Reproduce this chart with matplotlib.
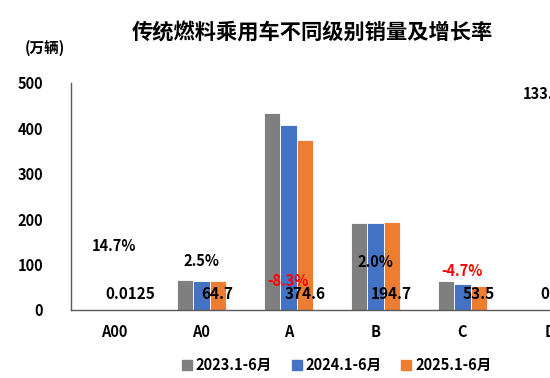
import numpy as np
import matplotlib.pyplot as plt
from matplotlib.lines import Line2D

plt.rcParams['font.family'] = ['Noto Sans CJK SC', 'DejaVu Sans']
plt.rcParams['font.weight'] = 'bold'

# data (万辆)
categories = ["A00", "A0", "A", "B", "C", "D"]
series_names = ["2023.1-6月", "2024.1-6月", "2025.1-6月"]
sales_2023 = [0.011, 67.0, 433.0, 192.0, 64.0, 0.3]
sales_2024 = [0.0109, 63.1, 408.5, 190.9, 56.1, 0.2]
sales_2025 = [0.0125, 64.7, 374.6, 194.7, 53.5, 0.5]
value_labels = ["0.0125", "64.7", "374.6", "194.7", "53.5", "0.0018"]
growth_labels = ["14.7%", "2.5%", "-8.3%", "2.0%", "-4.7%", "133.7%"]
growth_values = [14.7, 2.5, -8.3, 2.0, -4.7, 133.7]

# where the growth labels sit (axis units)
growth_label_y = [140, 107, 64, 106, 86, 476]
value_label_y = 35

colors = ["#7f7f7f", "#4472c4", "#ed7d31"]

fig = plt.figure(figsize=(5.5, 3.78), dpi=100)
ax = fig.add_axes([0.129, 0.18, 0.949, 0.6005])

x = np.arange(len(categories))
w = 0.187
for i, vals in enumerate([sales_2023, sales_2024, sales_2025]):
    ax.bar(x + (i - 1) * w, vals, w, color=colors[i], edgecolor="white",
           linewidth=0.6, label=series_names[i])

# sales labels (cut off at the right edge like the original)
for xi, lab in zip(x, value_labels):
    ax.text(xi + w, value_label_y, lab, ha="center", va="center",
            fontsize=11, fontweight="bold", color="black")

# growth rate labels
for xi, lab, g, gy in zip(x, growth_labels, growth_values, growth_label_y):
    ax.text(xi, gy, lab, ha="center", va="center", fontsize=10.5,
            fontweight="bold", color="black" if g >= 0 else "#ff0000")

ax.set_xlim(-0.5, 5.5)
ax.set_ylim(0, 500)
ax.set_yticks([0, 100, 200, 300, 400, 500])
ax.set_xticks(x)
ax.set_xticklabels(categories, fontsize=10.5, fontweight="bold")
ax.tick_params(axis="y", length=0, pad=20, labelsize=10.5)
ax.tick_params(axis="x", length=0, pad=10)
for s in ["top", "right"]:
    ax.spines[s].set_visible(False)
for s in ["left", "bottom"]:
    ax.spines[s].set_color("#595959")
    ax.spines[s].set_linewidth(1.0)

fig.text(0.567, 0.912, "传统燃料乘用车不同级别销量及增长率", ha="center", va="center",
         fontsize=15.3, fontweight="bold")
fig.text(0.045, 0.873, "(万辆)", ha="left", va="center", fontsize=10.5,
         fontweight="bold")

handles = [Line2D([], [], marker="s", linestyle="none", markersize=7,
                  color=c) for c in colors]
fig.legend(handles, series_names, loc="center", bbox_to_anchor=(0.61, 0.035),
           ncol=3, frameon=False, fontsize=10.5, handletextpad=0.1,
           columnspacing=1.2, handlelength=1.0)

fig.savefig("out.png", dpi=100)
